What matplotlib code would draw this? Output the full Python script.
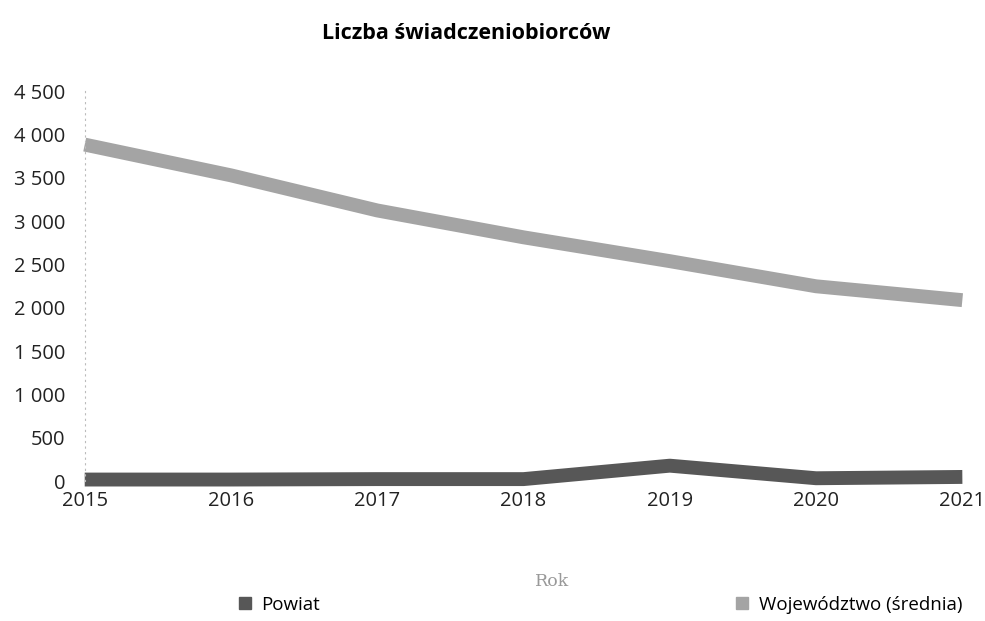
import matplotlib.pyplot as plt
from matplotlib.lines import Line2D

plt.rcParams['font.family'] = ['Open Sans', 'DejaVu Sans']

lata = [2015, 2016, 2017, 2018, 2019, 2020, 2021]
powiat = [20, 20, 25, 25, 180, 35, 50]
wojewodztwo = [3885, 3530, 3125, 2815, 2540, 2250, 2090]
yticks = [0, 500, 1000, 1500, 2000, 2500, 3000, 3500, 4000, 4500]
c_pow = '#575757'
c_woj = '#a4a4a4'

fig = plt.figure(figsize=(9.85, 6.21), dpi=100)
ax = fig.add_axes([0.086, 0.225, 0.891, 0.628])

ax.plot(lata, powiat, color=c_pow, linewidth=10, solid_capstyle='butt',
        clip_on=False, label='Powiat')
ax.plot(lata, wojewodztwo, color=c_woj, linewidth=10, solid_capstyle='butt',
        clip_on=False, label='Województwo (średnia)')

ax.set_xlim(lata[0], lata[-1])
ax.set_ylim(0, 4500)
ax.set_xticks(lata)
ax.set_yticks(yticks)
ax.set_yticklabels([f'{v:,}'.replace(',', ' ') for v in yticks])
ax.tick_params(length=0, labelsize=14.5, colors='#222222')
ax.tick_params(axis='y', pad=14)
ax.tick_params(axis='x', pad=7)
for s in ['top', 'right', 'bottom']:
    ax.spines[s].set_visible(False)
ax.spines['left'].set_linestyle((0, (1, 4)))
ax.spines['left'].set_color('#bbbbbb')
ax.spines['left'].set_linewidth(0.8)

ax.set_xlabel('Rok', fontsize=12.5, color='#999999', family=['DejaVu Serif'])
ax.xaxis.set_label_coords(0.533, -0.235)
fig.suptitle('Liczba świadczeniobiorców', x=0.473, y=0.963, fontsize=15.5, fontweight='bold')

handles = [Line2D([], [], linestyle='none', marker='s', markersize=9, color=c_pow),
           Line2D([], [], linestyle='none', marker='s', markersize=9, color=c_woj)]
fig.legend(handles, ['Powiat', 'Województwo (średnia)'], loc='lower center',
           bbox_to_anchor=(0.608, -0.016), ncol=2, frameon=False, fontsize=13.5,
           columnspacing=22, handletextpad=0.4, handlelength=1)

plt.savefig('out.png', dpi=100)
